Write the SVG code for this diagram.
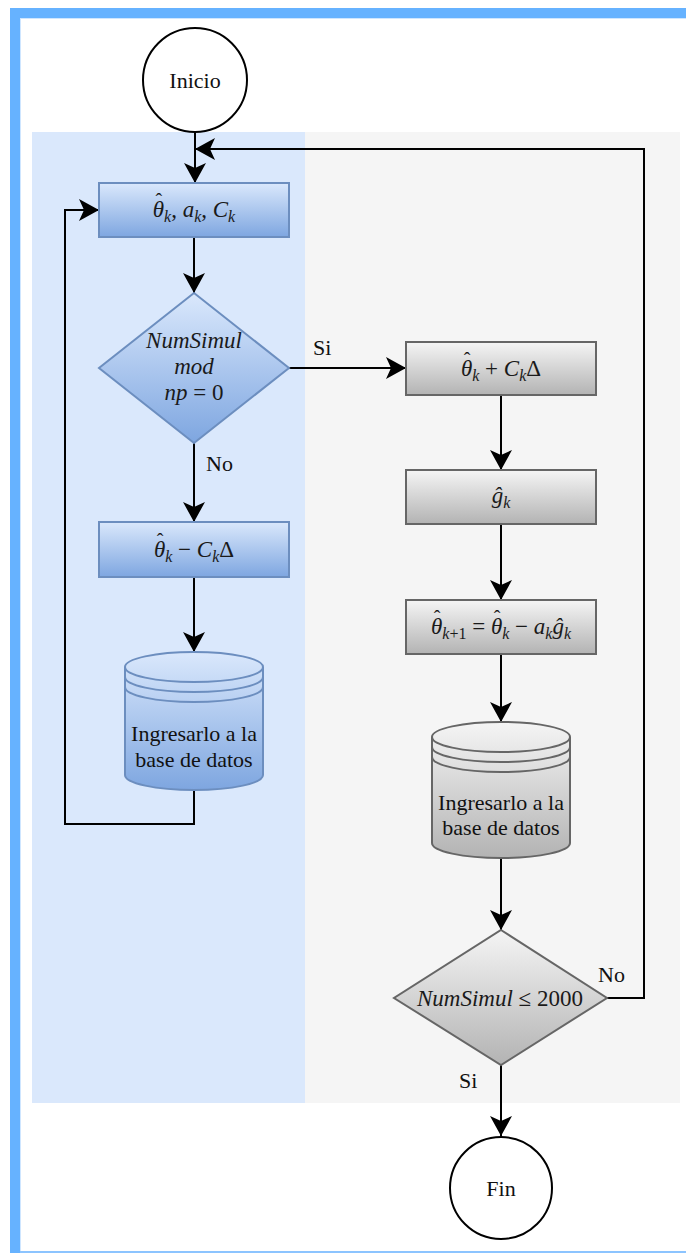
<svg xmlns="http://www.w3.org/2000/svg" width="686" height="1253" viewBox="0 0 686 1253">
  <style>
    .lbl { font-family: "Liberation Serif", "Times New Roman", serif; font-size: 22px; fill: #111; }
    .m { font-family: "Liberation Serif", "Times New Roman", serif; font-size: 23px; fill: #1a1a1a; }
    .i { font-style: italic; }
    .s { font-size: 16px; }
    .hat { font-size: 20px; font-style: normal; }
    .edge { fill: none; stroke: #000; stroke-width: 2; marker-end: url(#arr); }
    .blue { fill: url(#gBlue); stroke: #6c8ebf; stroke-width: 2; }
    .gray { fill: url(#gGray); stroke: #666; stroke-width: 2; }
    .term { fill: #fff; stroke: #000; stroke-width: 2; }
    .rim { fill: none; }
  </style>
  <defs>
    <linearGradient id="gBlue" x1="0" y1="0" x2="0" y2="1">
      <stop offset="0" stop-color="#dae8fc"/>
      <stop offset="1" stop-color="#7ea6e0"/>
    </linearGradient>
    <linearGradient id="gGray" x1="0" y1="0" x2="0" y2="1">
      <stop offset="0" stop-color="#f5f5f5"/>
      <stop offset="1" stop-color="#b3b3b3"/>
    </linearGradient>
    <marker id="arr" markerUnits="userSpaceOnUse" markerWidth="22" markerHeight="22" viewBox="0 0 22 22" refX="20" refY="11" orient="auto">
      <path d="M0,0 L20,11 L0,22 L5,11 Z" fill="#000"/>
    </marker>
  </defs>

  <!-- page frame -->
  <rect x="0" y="0" width="686" height="1253" fill="#fff"/>
  <rect x="10" y="8" width="10" height="1245" fill="#66b2ff"/>
  <rect x="10" y="8" width="676" height="10" fill="#66b2ff"/>
  <rect x="20" y="18" width="666" height="1" fill="#cfe6ff"/>
  <rect x="20" y="18" width="1" height="1235" fill="#cfe6ff"/>
  <rect x="20" y="1251" width="666" height="2" fill="#8cc4ff"/>

  <!-- swimlanes -->
  <g id="lanes">
    <rect x="32" y="132" width="273" height="971" fill="#dae8fc"/>
    <rect x="305" y="132" width="375" height="971" fill="#f5f5f5"/>
  </g>

  <!-- connectors -->
  <g id="connectors">
    <path class="edge" d="M195,132 L195,183"/>
    <path class="edge" d="M194,237 L194,293"/>
    <path class="edge" d="M288,368 L406,368"/>
    <path class="edge" d="M194,443 L194,522"/>
    <path class="edge" d="M194,577 L194,652"/>
    <path class="edge" d="M194,790 L194,824 L65,824 L65,210 L99,210"/>
    <path class="edge" d="M501,395 L501,470"/>
    <path class="edge" d="M501,524 L501,600"/>
    <path class="edge" d="M501,654 L501,722"/>
    <path class="edge" d="M501,858 L501,930"/>
    <path class="edge" d="M607,998 L644,998 L644,149 L195,149"/>
    <path class="edge" d="M501,1065 L501,1136"/>
    <text class="lbl" x="313" y="355">Si</text>
    <text class="lbl" x="206" y="471">No</text>
    <text class="lbl" x="598" y="982">No</text>
    <text class="lbl" x="459" y="1088">Si</text>
  </g>

  <g id="inicio">
    <circle class="term" cx="195" cy="80" r="52"/>
    <text class="lbl" x="195" y="88" text-anchor="middle">Inicio</text>
  </g>

  <!-- θ with hat: the hat is stepped back over the θ, then the subscript follows -->
  <g id="init">
    <rect class="blue" x="99" y="183" width="190" height="54"/>
    <text class="m" x="194" y="217" text-anchor="middle"><tspan class="i">θ</tspan><tspan class="hat" dx="-8.5" dy="-9">ˆ</tspan><tspan class="i s" dx="1.8" dy="14">k</tspan><tspan dy="-5">, </tspan><tspan class="i">a</tspan><tspan class="i s" dy="5">k</tspan><tspan dy="-5">, </tspan><tspan class="i">C</tspan><tspan class="i s" dy="5">k</tspan></text>
  </g>

  <g id="check-mod">
    <polygon class="blue" points="194,293 289,368 194,443 99,368"/>
    <text class="m i" x="194" y="348" text-anchor="middle">NumSimul</text>
    <text class="m i" x="194" y="374" text-anchor="middle">mod</text>
    <text class="m" x="194" y="400" text-anchor="middle"><tspan class="i">np</tspan> = 0</text>
  </g>

  <g id="minus">
    <rect class="blue" x="99" y="522" width="190" height="55"/>
    <text class="m" x="194" y="557" text-anchor="middle"><tspan class="i">θ</tspan><tspan class="hat" dx="-8.5" dy="-9">ˆ</tspan><tspan class="i s" dx="1.8" dy="14">k</tspan><tspan dy="-5"> − </tspan><tspan class="i">C</tspan><tspan class="i s" dy="5">k</tspan><tspan dy="-5">Δ</tspan></text>
  </g>

  <g id="store-left">
    <path class="blue" d="M125,667 A69,15 0 0 1 263,667 L263,775 A69,15 0 0 1 125,775 Z"/>
    <path class="rim" stroke="#6c8ebf" stroke-width="2" d="M125,667 A69,15 0 0 0 263,667 M125,677 A69,15 0 0 0 263,677 M125,687 A69,15 0 0 0 263,687"/>
    <text class="lbl" x="194" y="741" text-anchor="middle">Ingresarlo a la</text>
    <text class="lbl" x="194" y="767" text-anchor="middle">base de datos</text>
  </g>

  <g id="plus">
    <rect class="gray" x="406" y="342" width="190" height="53"/>
    <text class="m" x="501" y="376" text-anchor="middle"><tspan class="i">θ</tspan><tspan class="hat" dx="-8.5" dy="-9">ˆ</tspan><tspan class="i s" dx="1.8" dy="14">k</tspan><tspan dy="-5"> + </tspan><tspan class="i">C</tspan><tspan class="i s" dy="5">k</tspan><tspan dy="-5">Δ</tspan></text>
  </g>

  <g id="gradient">
    <rect class="gray" x="406" y="470" width="190" height="54"/>
    <text class="m" x="501" y="503" text-anchor="middle"><tspan class="i">ĝ</tspan><tspan class="i s" dy="5">k</tspan></text>
  </g>

  <g id="update">
    <rect class="gray" x="406" y="600" width="190" height="54"/>
    <text class="m" x="501" y="634" text-anchor="middle"><tspan class="i">θ</tspan><tspan class="hat" dx="-8.5" dy="-9">ˆ</tspan><tspan class="s" dx="1.8" dy="14"><tspan class="i">k</tspan>+1</tspan><tspan dy="-5"> = </tspan><tspan class="i">θ</tspan><tspan class="hat" dx="-8.5" dy="-9">ˆ</tspan><tspan class="i s" dx="1.8" dy="14">k</tspan><tspan dy="-5"> − </tspan><tspan class="i">a</tspan><tspan class="i s" dy="5">k</tspan><tspan class="i" dy="-5">ĝ</tspan><tspan class="i s" dy="5">k</tspan></text>
  </g>

  <g id="store-right">
    <path class="gray" d="M432,737 A69,15 0 0 1 570,737 L570,843 A69,15 0 0 1 432,843 Z"/>
    <path class="rim" stroke="#666" stroke-width="2" d="M432,737 A69,15 0 0 0 570,737 M432,747 A69,15 0 0 0 570,747 M432,757 A69,15 0 0 0 570,757"/>
    <text class="lbl" x="501" y="810" text-anchor="middle">Ingresarlo a la</text>
    <text class="lbl" x="501" y="835" text-anchor="middle">base de datos</text>
  </g>

  <g id="check-limit">
    <polygon class="gray" points="501,930 607,998 501,1065 394,998"/>
    <text class="m" x="500" y="1006" text-anchor="middle"><tspan class="i">NumSimul</tspan> ≤ 2000</text>
  </g>

  <g id="fin">
    <circle class="term" cx="501" cy="1188" r="51"/>
    <text class="lbl" x="501" y="1196" text-anchor="middle">Fin</text>
  </g>
</svg>
